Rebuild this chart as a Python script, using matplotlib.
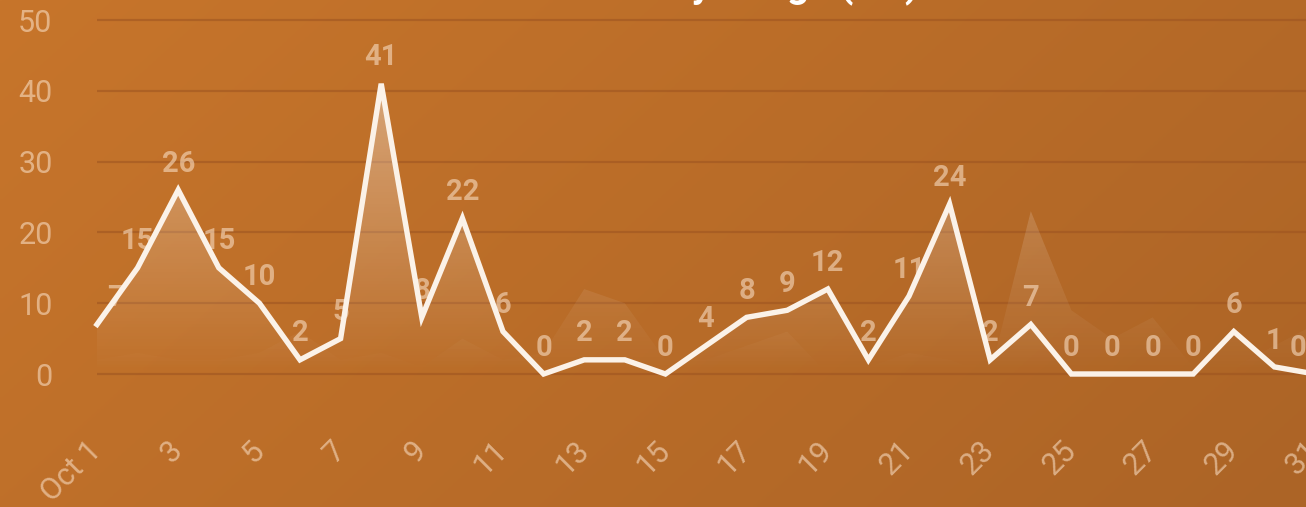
import numpy as np
import matplotlib.pyplot as plt

days = list(range(1, 32))
usage = [7, 15, 26, 15, 10, 2, 5, 41, 8, 22, 6, 0, 2, 2, 0, 4,
         8, 9, 12, 2, 11, 24, 2, 7, 0, 0, 0, 0, 6, 1, 0]
previous = [2, 3, 2, 2, 3, 6, 2, 3, 1, 5, 2, 3, 12, 10, 2, 2,
            4, 6, 0, 1, 3, 2, 0, 23, 9, 5, 8, 1, 1, 4, 7]
tick_days = list(range(1, 32, 2))
tick_labels = ["Oct 1"] + [str(d) for d in tick_days[1:]]
y_ticks = [0, 10, 20, 30, 40, 50]
title = "Daily Usage (GB)"

plt.rcParams["font.family"] = ["Roboto", "DejaVu Sans"]

W, H = 1306, 507
fig = plt.figure(figsize=(W / 100, H / 100), dpi=100)

# diagonal orange backdrop
bg = fig.add_axes([0, 0, 1, 1], zorder=0)
gx, gy = np.meshgrid(np.linspace(0, 1, 300), np.linspace(0, 1, 300))
t = (gx * 0.7 + gy * 0.3)
c0 = np.array([199, 117, 43]) / 255
c1 = np.array([172, 100, 38]) / 255
bg.imshow(c0 + (c1 - c0) * t[..., None], aspect="auto", extent=[0, 1, 0, 1], origin="upper")
bg.axis("off")

ax = fig.add_axes([97 / W, 133 / H, 1218 / W, 354 / H], zorder=1)
ax.set_facecolor("none")
for s in ax.spines.values():
    s.set_visible(False)

ax.hlines(y_ticks, 1, 31, colors="#9c5320", alpha=0.55, lw=1.6, clip_on=False, zorder=1)


def gradient_fill(y, top_alpha, z):
    poly = ax.fill_between(days, y, 0, facecolor="none", edgecolor="none")
    grad = np.ones((200, 1, 4))
    grad[:, 0, 3] = np.linspace(0, top_alpha, 200)
    im = ax.imshow(grad, aspect="auto", extent=[1, 31, 0, 50], origin="lower", zorder=z)
    im.set_clip_path(poly.get_paths()[0], transform=ax.transData)


gradient_fill(previous, 0.34, 2)
gradient_fill(usage, 0.45, 3)

label_col = (0.98, 0.88, 0.78, 0.58)
for i, (d, v) in enumerate(zip(days, usage)):
    dx, ha = 0, "center"
    if i == 0:
        dx, ha = 7, "left"
    elif i == len(days) - 1:
        dx, ha = -6.5, "right"
    ax.annotate(str(v), (d, v), xytext=(dx, 19), textcoords="offset points",
                ha=ha, va="center", fontsize=21, fontweight="bold",
                color=label_col, zorder=4, annotation_clip=False)

ax.plot(days, usage, color="#fbf2e8", lw=3.9, solid_joinstyle="miter", zorder=5, clip_on=False)

ax.set_xlim(1, 31)
ax.set_ylim(0, 50)
ax.set_yticks(y_ticks)
ax.set_xticks(tick_days, tick_labels, rotation=45, ha="right", va="center",
              rotation_mode="anchor")
ax.tick_params(axis="y", length=0, pad=32, labelsize=22, labelcolor=label_col)
ax.tick_params(axis="x", length=0, pad=52, labelsize=22, labelcolor=label_col)

fig.text(625 / W, 1 + 2.5 / H, title, ha="left", va="baseline", fontsize=28,
         fontweight="bold", color="white")

fig.savefig("out.png", dpi=100)
